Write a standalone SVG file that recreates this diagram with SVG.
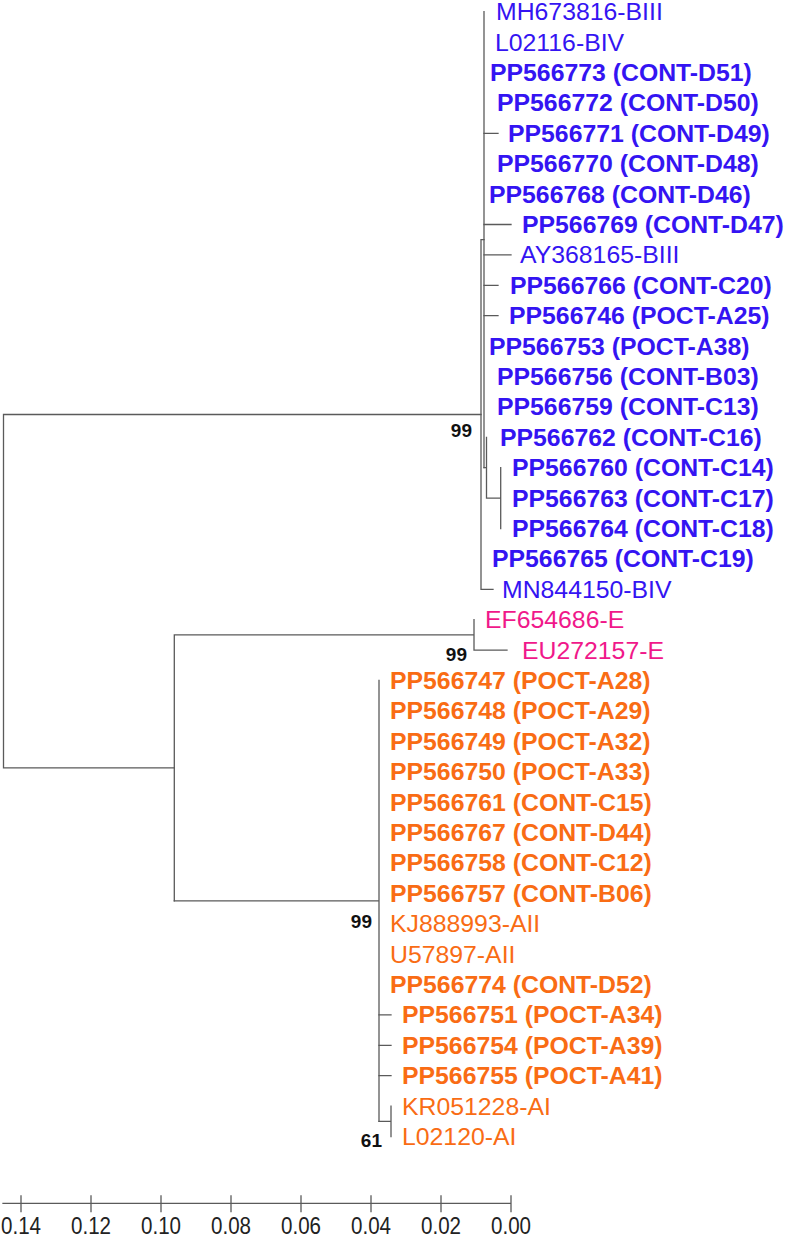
<svg xmlns="http://www.w3.org/2000/svg" width="788" height="1239" viewBox="0 0 788 1239">
<style>
.ln{stroke:#5a5a5a;stroke-width:1.3;fill:none;stroke-linecap:square}
.t{font-family:"Liberation Sans",Arial,sans-serif;font-size:24.8px}
.b{font-weight:bold}
.bl{fill:#3414F2}
.or{fill:#F96C14}
.pk{fill:#F0188A}
.bs{font-family:"Liberation Sans",Arial,sans-serif;font-size:19px;font-weight:bold;fill:#111;text-anchor:end}
.ax{font-family:"Liberation Sans",Arial,sans-serif;font-size:23px;fill:#222;text-anchor:middle}
</style>
<rect width="788" height="1239" fill="#fff"/>
<g id="connectors" class="ln">
<path d="M3.5,414.5V767.9M3.5,414.5H481M3.5,767.9H174.3"/>
<path d="M481,239.7V589.3M481,239.7H484M481,589.3H493"/>
<path d="M484,11.7V467.7"/>
<path d="M484,133.3H498M484,224.5H511M484,254.9H511M484,285.3H498M484,315.7H498"/>
<path d="M484,467.7H486.5M486.5,437.3V498.1M486.5,498.1H500.7M500.7,467.7V528.5"/>
<path d="M174.3,634.9V900.9M174.3,634.9H474M474,619.7V650.1M474,650.1H507"/>
<path d="M174.3,900.9H379M379,680.5V1121.3"/>
<path d="M379,1014.9H391M379,1045.3H391M379,1075.7H391M379,1121.3H391M391,1106.1V1136.5"/>
</g>
<g id="bootstrap">
<text class="bs" x="472" y="437">99</text>
<text class="bs" x="467" y="661">99</text>
<text class="bs" x="372" y="928">99</text>
<text class="bs" x="382" y="1147">61</text>
</g>
<g id="tips-B">
<g id="n0"><text class="t bl" x="496" y="20.2">MH673816-BIII</text></g>
<g id="n1"><text class="t bl" x="495" y="50.6">L02116-BIV</text></g>
<g id="n2"><text class="t b bl" x="490" y="81">PP566773 (CONT-D51)</text></g>
<g id="n3"><text class="t b bl" x="497" y="111.4">PP566772 (CONT-D50)</text></g>
<g id="n4"><text class="t b bl" x="508" y="141.8">PP566771 (CONT-D49)</text></g>
<g id="n5"><text class="t b bl" x="497" y="172.2">PP566770 (CONT-D48)</text></g>
<g id="n6"><text class="t b bl" x="489" y="202.6">PP566768 (CONT-D46)</text></g>
<g id="n7"><text class="t b bl" x="522" y="233">PP566769 (CONT-D47)</text></g>
<g id="n8"><text class="t bl" x="520" y="263.4">AY368165-BIII</text></g>
<g id="n9"><text class="t b bl" x="510" y="293.8">PP566766 (CONT-C20)</text></g>
<g id="n10"><text class="t b bl" x="509" y="324.2">PP566746 (POCT-A25)</text></g>
<g id="n11"><text class="t b bl" x="489" y="354.6">PP566753 (POCT-A38)</text></g>
<g id="n12"><text class="t b bl" x="497" y="385">PP566756 (CONT-B03)</text></g>
<g id="n13"><text class="t b bl" x="497" y="415.4">PP566759 (CONT-C13)</text></g>
<g id="n14"><text class="t b bl" x="500" y="445.8">PP566762 (CONT-C16)</text></g>
<g id="n15"><text class="t b bl" x="512" y="476.2">PP566760 (CONT-C14)</text></g>
<g id="n16"><text class="t b bl" x="512" y="506.6">PP566763 (CONT-C17)</text></g>
<g id="n17"><text class="t b bl" x="512" y="537">PP566764 (CONT-C18)</text></g>
<g id="n18"><text class="t b bl" x="492" y="567.4">PP566765 (CONT-C19)</text></g>
<g id="n19"><text class="t bl" x="502" y="597.8">MN844150-BIV</text></g>
</g>
<g id="tips-E">
<g id="n20"><text class="t pk" x="485" y="628.2">EF654686-E</text></g>
<g id="n21"><text class="t pk" x="522" y="658.6">EU272157-E</text></g>
</g>
<g id="tips-A">
<g id="n22"><text class="t b or" x="390" y="689">PP566747 (POCT-A28)</text></g>
<g id="n23"><text class="t b or" x="390" y="719.4">PP566748 (POCT-A29)</text></g>
<g id="n24"><text class="t b or" x="390" y="749.8">PP566749 (POCT-A32)</text></g>
<g id="n25"><text class="t b or" x="390" y="780.2">PP566750 (POCT-A33)</text></g>
<g id="n26"><text class="t b or" x="390" y="810.6">PP566761 (CONT-C15)</text></g>
<g id="n27"><text class="t b or" x="390" y="841">PP566767 (CONT-D44)</text></g>
<g id="n28"><text class="t b or" x="390" y="871.4">PP566758 (CONT-C12)</text></g>
<g id="n29"><text class="t b or" x="390" y="901.8">PP566757 (CONT-B06)</text></g>
<g id="n30"><text class="t or" x="390" y="932.2">KJ888993-AII</text></g>
<g id="n31"><text class="t or" x="390" y="962.6">U57897-AII</text></g>
<g id="n32"><text class="t b or" x="390" y="993">PP566774 (CONT-D52)</text></g>
<g id="n33"><text class="t b or" x="402" y="1023.4">PP566751 (POCT-A34)</text></g>
<g id="n34"><text class="t b or" x="402" y="1053.8">PP566754 (POCT-A39)</text></g>
<g id="n35"><text class="t b or" x="402" y="1084.2">PP566755 (POCT-A41)</text></g>
<g id="n36"><text class="t or" x="402" y="1114.6">KR051228-AI</text></g>
<g id="n37"><text class="t or" x="402" y="1145">L02120-AI</text></g>
</g>
<g id="scale">
<path class="ln" d="M3,1203.3H511M21,1196V1211.5M91,1196V1211.5M161,1196V1211.5M231,1196V1211.5M301,1196V1211.5M371,1196V1211.5M441,1196V1211.5M511,1196V1211.5"/>
<text class="ax" x="21" y="1233.5" textLength="40" lengthAdjust="spacingAndGlyphs">0.14</text>
<text class="ax" x="91" y="1233.5" textLength="40" lengthAdjust="spacingAndGlyphs">0.12</text>
<text class="ax" x="161" y="1233.5" textLength="40" lengthAdjust="spacingAndGlyphs">0.10</text>
<text class="ax" x="231" y="1233.5" textLength="40" lengthAdjust="spacingAndGlyphs">0.08</text>
<text class="ax" x="301" y="1233.5" textLength="40" lengthAdjust="spacingAndGlyphs">0.06</text>
<text class="ax" x="371" y="1233.5" textLength="40" lengthAdjust="spacingAndGlyphs">0.04</text>
<text class="ax" x="441" y="1233.5" textLength="40" lengthAdjust="spacingAndGlyphs">0.02</text>
<text class="ax" x="511" y="1233.5" textLength="40" lengthAdjust="spacingAndGlyphs">0.00</text>
</g>
</svg>
